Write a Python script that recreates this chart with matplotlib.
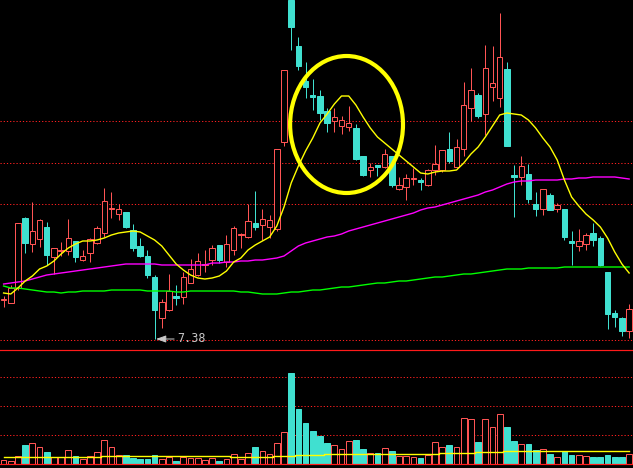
import numpy as np
import matplotlib.pyplot as plt
from matplotlib.patches import Ellipse

# daily bars, oldest first (88 sessions visible)
opens = [8.16, 8.10, 8.40, 9.80, 9.28, 9.38, 9.62, 9.02, 9.14, 9.14,
         9.34, 8.96, 9.10, 9.30, 9.50, 9.98, 9.88, 9.92, 9.56, 9.24,
         9.04, 8.62, 7.80, 7.96, 8.24, 8.22, 8.50, 8.66, 8.86, 8.96,
         9.26, 8.92, 9.16, 9.46, 9.42, 9.70, 9.66, 9.62, 9.58, 11.32,
         14.16, 13.24, 12.54, 12.26, 12.24, 11.94, 11.74, 11.64, 11.62, 11.60,
         11.04, 10.76, 10.86, 10.82, 11.04, 10.38, 10.42, 10.58, 10.56, 10.46,
         10.76, 10.76, 11.18, 10.82, 11.18, 12.00, 12.26, 11.88, 12.42, 12.20,
         12.78, 10.66, 10.62, 10.68, 10.08, 9.98, 10.26, 9.98, 9.98, 9.34,
         9.24, 9.28, 9.50, 9.40, 8.72, 7.90, 7.80, 7.54]
highs = [8.24, 8.46, 9.70, 9.82, 10.12, 9.78, 9.72, 9.20, 9.32, 9.78,
         9.34, 9.16, 9.40, 9.64, 10.40, 10.32, 10.08, 9.92, 9.68, 9.40,
         9.16, 8.66, 8.18, 8.68, 8.46, 8.72, 8.98, 9.10, 9.16, 9.26,
         9.26, 9.46, 9.64, 9.50, 10.08, 10.34, 9.98, 9.86, 11.18, 12.76,
         14.16, 13.42, 12.92, 12.58, 12.36, 12.00, 12.00, 11.84, 12.04, 11.68,
         11.04, 10.90, 10.86, 11.18, 11.04, 10.62, 10.68, 10.80, 10.60, 10.78,
         11.26, 11.16, 11.52, 11.38, 12.52, 12.80, 12.30, 13.26, 13.24, 13.90,
         12.92, 10.86, 11.04, 10.88, 10.32, 10.38, 10.30, 10.10, 9.98, 9.54,
         9.58, 9.50, 9.70, 9.44, 8.72, 7.96, 7.82, 8.08]
lows = [8.02, 8.10, 8.36, 9.10, 9.12, 9.22, 8.86, 8.68, 9.04, 9.06,
        8.92, 8.94, 8.92, 9.28, 9.42, 9.80, 9.76, 9.60, 9.14, 9.02,
        8.60, 7.38, 7.60, 7.94, 8.06, 8.08, 8.50, 8.64, 8.72, 8.86,
        8.90, 8.82, 9.06, 9.20, 9.40, 9.56, 9.36, 9.40, 9.54, 11.24,
        13.16, 12.76, 12.20, 11.96, 11.76, 11.52, 11.52, 11.48, 11.54, 10.96,
        10.64, 10.62, 10.64, 10.80, 10.42, 10.36, 10.16, 10.46, 10.36, 10.44,
        10.66, 10.72, 10.90, 10.80, 11.04, 11.74, 11.80, 11.46, 12.14, 12.02,
        11.24, 9.82, 10.46, 10.10, 9.84, 9.86, 9.96, 9.92, 9.36, 8.86,
        9.14, 9.16, 9.24, 8.84, 7.58, 7.62, 7.44, 7.40]
closes = [8.18, 8.40, 9.70, 9.30, 9.54, 9.76, 9.06, 9.20, 9.16, 9.40,
          9.02, 9.04, 9.38, 9.60, 10.14, 10.00, 9.98, 9.62, 9.20, 9.04,
          8.66, 7.96, 8.12, 8.34, 8.20, 8.62, 8.78, 8.94, 8.88, 9.20,
          8.96, 9.28, 9.60, 9.48, 9.74, 9.62, 9.78, 9.76, 11.18, 12.76,
          13.62, 12.84, 12.42, 12.22, 11.90, 11.70, 11.82, 11.76, 11.70, 10.98,
          10.66, 10.82, 10.82, 11.08, 10.46, 10.46, 10.60, 10.60, 10.52, 10.76,
          10.88, 11.16, 10.94, 11.22, 12.06, 12.36, 11.84, 12.80, 12.50, 13.02,
          11.24, 10.62, 10.84, 10.18, 9.98, 10.38, 9.96, 10.06, 9.42, 9.30,
          9.34, 9.46, 9.36, 8.86, 7.88, 7.82, 7.54, 7.98]
volumes = [0.4, 0.3, 0.8, 1.9, 2.1, 1.7, 1.2, 0.7, 0.7, 1.4,
           0.8, 0.5, 0.8, 1.2, 2.4, 1.7, 0.9, 0.9, 0.6, 0.5,
           0.5, 0.9, 0.5, 0.7, 0.3, 0.7, 0.6, 0.6, 0.4, 0.6,
           0.3, 0.5, 1.0, 0.5, 1.1, 1.7, 1.3, 1.0, 2.1, 3.2,
           9.1, 5.5, 4.1, 3.3, 2.8, 2.1, 1.9, 1.5, 2.3, 2.4,
           1.5, 1.1, 1.1, 1.6, 1.3, 0.8, 0.8, 0.7, 0.6, 0.9,
           2.2, 1.7, 1.9, 1.7, 4.6, 4.5, 2.2, 4.5, 3.7, 5.0,
           3.7, 2.3, 2.0, 2.0, 1.4, 1.5, 1.0, 0.7, 1.3, 0.9,
           0.9, 0.8, 0.7, 0.7, 0.9, 0.7, 0.7, 1.0]

# moving averages as shown by the terminal (history before the window not available)
ma_fast = [8.30, 8.28, 8.40, 8.54, 8.64, 8.78, 8.84, 8.94, 9.08, 9.20,
           9.28, 9.34, 9.34, 9.36, 9.40, 9.46, 9.50, 9.52, 9.54, 9.52,
           9.44, 9.36, 9.24, 9.06, 8.88, 8.76, 8.66, 8.60, 8.58, 8.60,
           8.64, 8.74, 8.92, 9.00, 9.16, 9.26, 9.34, 9.42, 9.64, 10.02,
           10.50, 10.84, 11.14, 11.40, 11.70, 11.88, 12.08, 12.24, 12.24, 12.06,
           11.82, 11.60, 11.42, 11.30, 11.18, 11.06, 10.94, 10.82, 10.70, 10.68,
           10.72, 10.74, 10.74, 10.76, 10.90, 11.08, 11.22, 11.42, 11.64, 11.86,
           11.90, 11.88, 11.86, 11.76, 11.60, 11.40, 11.22, 10.96, 10.56, 10.22,
           10.04, 9.88, 9.76, 9.62, 9.40, 9.12, 8.88, 8.70]
ma_mid = [8.48, 8.50, 8.52, 8.54, 8.58, 8.62, 8.66, 8.68, 8.70, 8.72,
          8.74, 8.76, 8.78, 8.80, 8.82, 8.84, 8.86, 8.88, 8.88, 8.88,
          8.88, 8.88, 8.86, 8.86, 8.86, 8.86, 8.86, 8.86, 8.86, 8.90,
          8.90, 8.92, 8.92, 8.94, 8.94, 8.96, 8.96, 8.98, 9.00, 9.04,
          9.14, 9.24, 9.30, 9.34, 9.38, 9.42, 9.44, 9.48, 9.54, 9.58,
          9.62, 9.66, 9.70, 9.74, 9.78, 9.82, 9.86, 9.90, 9.96, 10.00,
          10.02, 10.06, 10.10, 10.14, 10.18, 10.22, 10.26, 10.32, 10.36, 10.42,
          10.48, 10.52, 10.54, 10.54, 10.56, 10.56, 10.56, 10.56, 10.58, 10.58,
          10.60, 10.60, 10.62, 10.62, 10.62, 10.62, 10.60, 10.58]
ma_slow = [8.44, 8.40, 8.40, 8.38, 8.36, 8.34, 8.32, 8.32, 8.30, 8.32,
           8.32, 8.34, 8.34, 8.34, 8.34, 8.36, 8.36, 8.36, 8.36, 8.36,
           8.34, 8.34, 8.34, 8.34, 8.32, 8.32, 8.34, 8.34, 8.34, 8.34,
           8.34, 8.34, 8.34, 8.32, 8.32, 8.30, 8.28, 8.28, 8.28, 8.30,
           8.32, 8.32, 8.34, 8.36, 8.36, 8.38, 8.40, 8.42, 8.42, 8.44,
           8.46, 8.48, 8.50, 8.50, 8.52, 8.54, 8.54, 8.56, 8.58, 8.60,
           8.62, 8.62, 8.64, 8.66, 8.68, 8.68, 8.70, 8.72, 8.74, 8.76,
           8.78, 8.78, 8.78, 8.80, 8.80, 8.80, 8.80, 8.80, 8.82, 8.82,
           8.82, 8.82, 8.82, 8.82, 8.82, 8.82, 8.82, 8.82]
vol_ma = [0.67] * 14 + [0.77] * 18 + [0.67] * 6 + [0.77] * 3 + [0.87] * 4 \
    + [0.97] * 16 + [1.07] * 5 + [1.17] * 4 + [1.27] * 18

price_grid = [11.74, 10.90, 10.08, 7.36]
vol_grid = [2.9, 5.8, 8.7]
low_label = "7.38"
low_idx = 21
circle = dict(center=(47.7, 11.67), width=15.7, height=2.74)  # highlighted pullback

UP = "#ff5454"
DOWN = "#40e0d0"
GRID = "#ff2020"
LINE = "#ff1a1a"
PX = 0.72  # one pixel in points at dpi=100

x = np.arange(len(closes))
o, h, l, c = map(np.array, (opens, highs, lows, closes))
up = c >= o
cols = np.where(up, UP, DOWN)

fig = plt.figure(figsize=(6.33, 4.68), dpi=100, facecolor="black")
ax = fig.add_axes([0, 119 / 468, 1, 349 / 468])
axv = fig.add_axes([0, 0, 1, 119 / 468])
for a in (ax, axv):
    a.set_xlim(-0.5, 87.54)
    a.axis("off")
ax.set_ylim(7.18, 14.16)
axv.set_ylim(-0.4, 11.5)

# dotted grid
for lvl in price_grid:
    ax.axhline(lvl, color=GRID, lw=PX, ls=(0, (1.2, 2)), zorder=0)
for lvl in vol_grid:
    axv.axhline(lvl, color=GRID, lw=PX, ls=(0, (1.2, 2)), zorder=0)

# candles: wick first, body on top (hollow red bodies hide the wick)
ax.vlines(x, l, h, colors=cols, lw=PX, zorder=2)
body_lo = np.minimum(o, c)
body_h = np.maximum(np.abs(c - o), 0.001)
ax.bar(x[up], body_h[up], bottom=body_lo[up], width=0.76,
       facecolor="black", edgecolor=UP, lw=PX, zorder=3)
ax.bar(x[~up], body_h[~up], bottom=body_lo[~up], width=0.76,
       facecolor=DOWN, edgecolor=DOWN, lw=PX, zorder=3)

# moving averages
ax.plot(x, ma_slow, color="#00ff00", lw=1.0, zorder=4)
ax.plot(x, ma_mid, color="#ff00ff", lw=1.0, zorder=4)
ax.plot(x, ma_fast, color="#ffff00", lw=1.0, zorder=4)

ax.add_patch(Ellipse(circle["center"], circle["width"], circle["height"],
                     fill=False, ec="#ffff00", lw=3.0, zorder=5))

ax.annotate(low_label, xy=(low_idx + 0.2, lows[low_idx]),
            xytext=(low_idx + 3.1, lows[low_idx]),
            color="#c8c8c8", fontsize=8.5, family="DejaVu Sans Mono", va="center",
            arrowprops=dict(arrowstyle="-|>,head_length=0.7,head_width=0.25",
                            color="#c8c8c8", lw=PX, shrinkA=0, shrinkB=0))

# volume panel
v = np.array(volumes)
axv.bar(x[up], v[up], width=0.8, facecolor="black", edgecolor=UP, lw=PX, zorder=2)
axv.bar(x[~up], v[~up], width=0.8, facecolor=DOWN, edgecolor=DOWN, lw=PX, zorder=2)
axv.plot(x, vol_ma, color="#ffff00", lw=1.0, drawstyle="steps-mid", zorder=3)
axv.axhline(0, color=LINE, lw=1.2 * PX, zorder=4)
axv.axhline(11.45, color=LINE, lw=1.2 * PX, zorder=4)

fig.savefig("out.png", dpi=100, facecolor="black")
